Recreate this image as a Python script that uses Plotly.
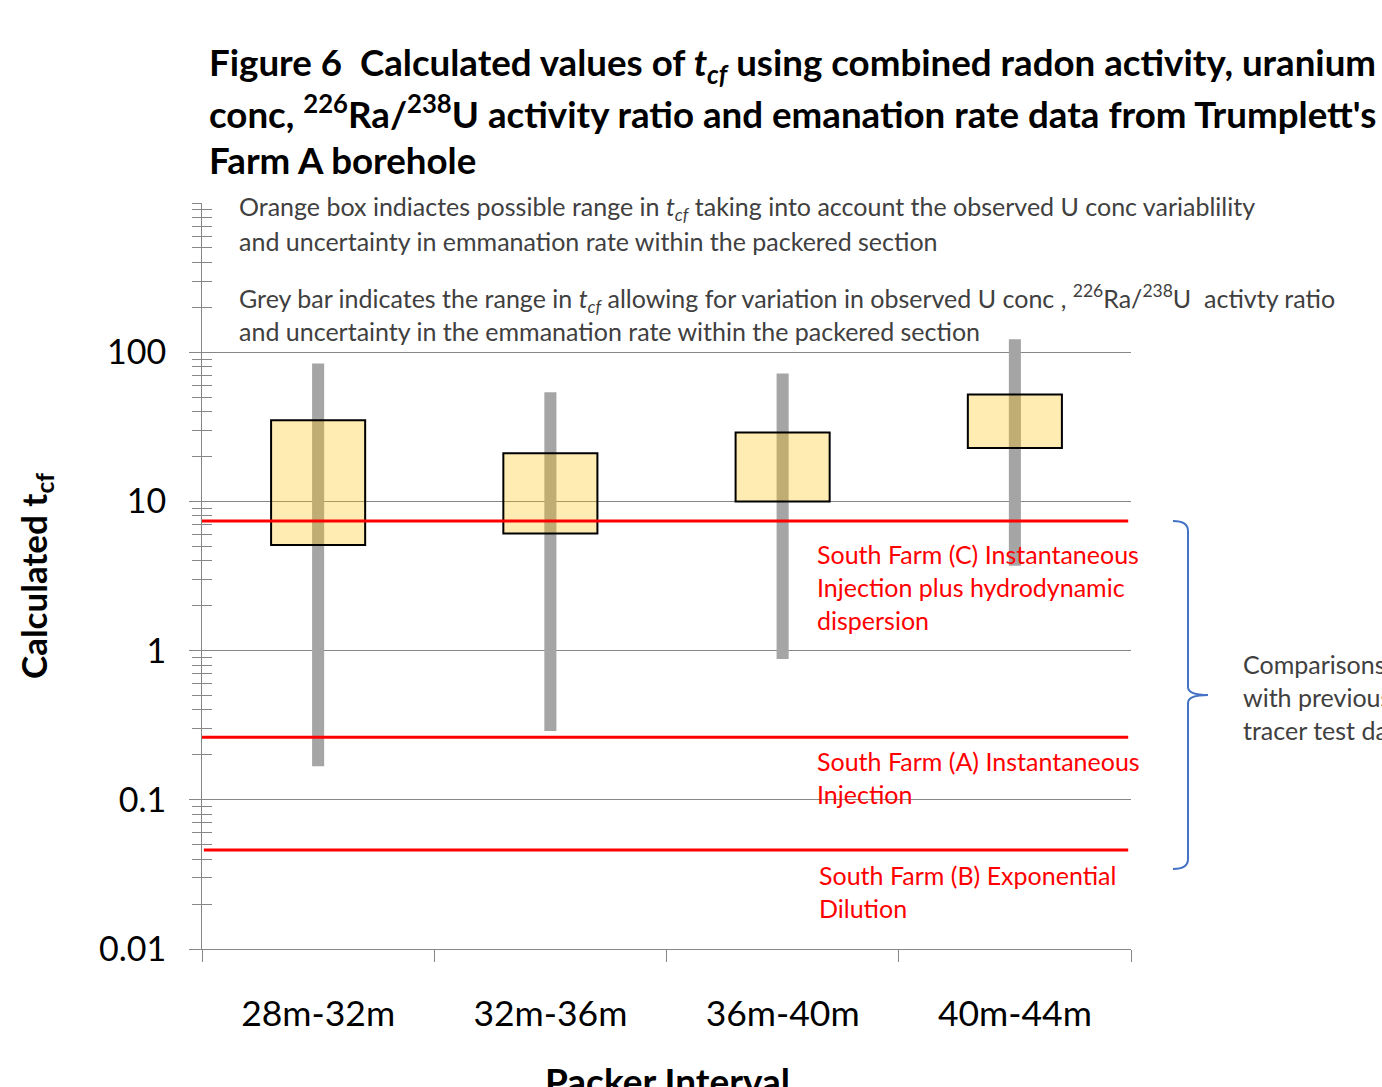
import plotly.graph_objects as go

# Packer intervals along the borehole
intervals = ["28m-32m", "32m-36m", "36m-40m", "40m-44m"]

# Grey bars: full range of t_cf (U conc, Ra/U ratio and emanation uncertainty)
grey_low = [0.168, 0.289, 0.88, 3.7]
grey_high = [84, 54, 72, 122]

# Orange boxes: range of t_cf from U conc variability and emanation uncertainty
box_low = [5.1, 6.1, 10.0, 22.8]
box_high = [35, 21, 29, 52]

# Tracer-test comparison levels (South Farm C, A, B)
ref_levels = [7.38, 0.263, 0.046]

# Axis tick values / labels
y_tickvals = [0.01, 0.1, 1, 10, 100]
y_ticktext = ["0.01", "0.1", "1", "10", "100"]

FONT = "Lato"
GRID = "#878787"

# plot area in pixels (used for placing free text)
L, R, T, B = 202, 1131, 203, 949


def pxx(x):
    return (x - L) / (R - L)


def pxy(y):
    return (B - y) / (B - T)


fig = go.Figure()

# grey range bars
fig.add_trace(go.Bar(
    x=intervals,
    y=[h - l for h, l in zip(grey_high, grey_low)],
    base=grey_low,
    width=0.052,
    marker=dict(color="#A5A5A5", line=dict(width=0)),
    showlegend=False,
    hoverinfo="skip",
))

# translucent orange boxes on top of the grey bars
fig.add_trace(go.Bar(
    x=intervals,
    y=[h - l for h, l in zip(box_high, box_low)],
    base=box_low,
    width=0.405,
    marker=dict(color="rgba(255,192,0,0.3)", line=dict(color="black", width=2)),
    showlegend=False,
    hoverinfo="skip",
))

# horizontal reference lines across the full plot width
for lvl, x0 in zip(ref_levels, [-0.002, -0.002, 0.002]):
    fig.add_trace(go.Scatter(
        x=[x0, 0.997], y=[lvl, lvl],
        xaxis="x2", yaxis="y",
        mode="lines",
        line=dict(color="#FF0000", width=3),
        showlegend=False,
        hoverinfo="skip",
    ))

minor_vals = [m * 10 ** e for e in range(-2, 3) for m in range(2, 10)] + [1000]

fig.update_layout(
    width=1382,
    height=1087,
    margin=dict(l=L, r=1382 - R, t=T, b=1087 - B),
    paper_bgcolor="white",
    plot_bgcolor="white",
    barmode="overlay",
    font=dict(family=FONT, color="black"),
    xaxis=dict(
        type="category",
        range=[-0.5, 3.5],
        showline=True, linecolor=GRID, linewidth=1,
        ticks="outside", tickson="boundaries", ticklen=12, tickcolor=GRID,
        showgrid=False,
        tickfont=dict(size=35.5, family=FONT, color="black"),
        ticklabelstandoff=33,
    ),
    xaxis2=dict(
        overlaying="x", range=[0, 1], visible=False,
    ),
    yaxis=dict(
        type="log",
        range=[-2, 3],
        tickmode="array", tickvals=y_tickvals, ticktext=y_ticktext,
        ticks="outside", ticklen=12, tickcolor=GRID,
        showline=True, linecolor=GRID, linewidth=1,
        showgrid=True, gridcolor=GRID, gridwidth=1,
        zeroline=False,
        tickfont=dict(size=34, family=FONT, color="black"),
        ticklabelstandoff=16,
        minor=dict(tickmode="array", tickvals=minor_vals, ticks="outside",
                   ticklen=9, tickcolor=GRID, showgrid=False),
    ),
    yaxis2=dict(
        type="log", range=[-2, 3], overlaying="y", side="left",
        tickmode="array", tickvals=y_tickvals + [1000],
        ticks="inside", ticklen=10, tickcolor=GRID,
        showticklabels=False, showgrid=False, showline=False, zeroline=False,
        minor=dict(tickmode="array", tickvals=minor_vals, ticks="inside",
                   ticklen=10, tickcolor=GRID, showgrid=False),
    ),
)

# give yaxis2 something to draw
fig.add_trace(go.Scatter(x=[None], y=[None], yaxis="y2", showlegend=False, hoverinfo="skip"))

ann = []


def text(x, y, s, size, color="black", bold=False, anchor="left", angle=0):
    if bold:
        s = "<b>" + s + "</b>"
    ann.append(dict(
        xref="paper", yref="paper", x=pxx(x), y=pxy(y),
        xanchor=anchor, yanchor="middle", text=s, showarrow=False,
        textangle=angle, font=dict(family=FONT, size=size, color=color),
    ))


# title
title_lines = [
    "Figure 6  Calculated values of <i>t<sub>cf</sub></i> using combined radon activity, uranium",
    "conc, <sup>226</sup>Ra/<sup>238</sup>U activity ratio and emanation rate data from Trumplett's",
    "Farm A borehole",
]
for yy, s in zip([64, 112, 160], title_lines):
    text(207, yy, s, 36.7, bold=True)

# explanatory notes
note_col = "#404040"
notes = [
    (208, "Orange box indiactes possible range in <i>t<sub>cf</sub></i> taking into account the observed U conc variablility"),
    (241, "and uncertainty in emmanation rate within the packered section"),
    (298, "Grey bar indicates the range in <i>t<sub>cf</sub></i> allowing for variation in observed U conc , <sup>226</sup>Ra/<sup>238</sup>U  activty ratio"),
    (331, "and uncertainty in the emmanation rate within the packered section"),
]
for yy, s in notes:
    text(237, yy, s, 25, color=note_col)

# labels for the reference lines
red_labels = [
    (815, 554, "South Farm (C) Instantaneous"),
    (815, 587, "Injection plus hydrodynamic"),
    (815, 620, "dispersion"),
    (815, 761, "South Farm (A) Instantaneous"),
    (815, 794, "Injection"),
    (817, 875, "South Farm (B) Exponential"),
    (817, 908, "Dilution"),
]
for xx, yy, s in red_labels:
    text(xx, yy, s, 25, color="#FF0000")

# brace caption
for yy, s in zip([664, 697, 730], ["Comparisons", "with previous", "tracer test data"]):
    text(1241, yy, s, 25, color=note_col)

# axis titles
text(35, 576, "Calculated t<sub>cf</sub>", 35, bold=True, anchor="center", angle=-90)
text(667, 1080, "Packer Interval", 37, bold=True, anchor="center")

fig.update_layout(annotations=ann)

# curly brace grouping the tracer-test lines
pts = [
    ("M", 1173, 521), ("Q", 1188, 521), ("", 1188, 531), ("L", 1188, 687),
    ("Q", 1188, 695), ("", 1208, 695), ("Q", 1188, 695), ("", 1188, 703),
    ("L", 1188, 859), ("Q", 1188, 869), ("", 1173, 869),
]
path = " ".join(f"{c} {pxx(x):.5f},{pxy(y):.5f}".strip() for c, x, y in pts)
fig.add_shape(type="path", xref="paper", yref="paper", path=path,
              line=dict(color="#4472C4", width=2))

fig.write_html("out.html")
